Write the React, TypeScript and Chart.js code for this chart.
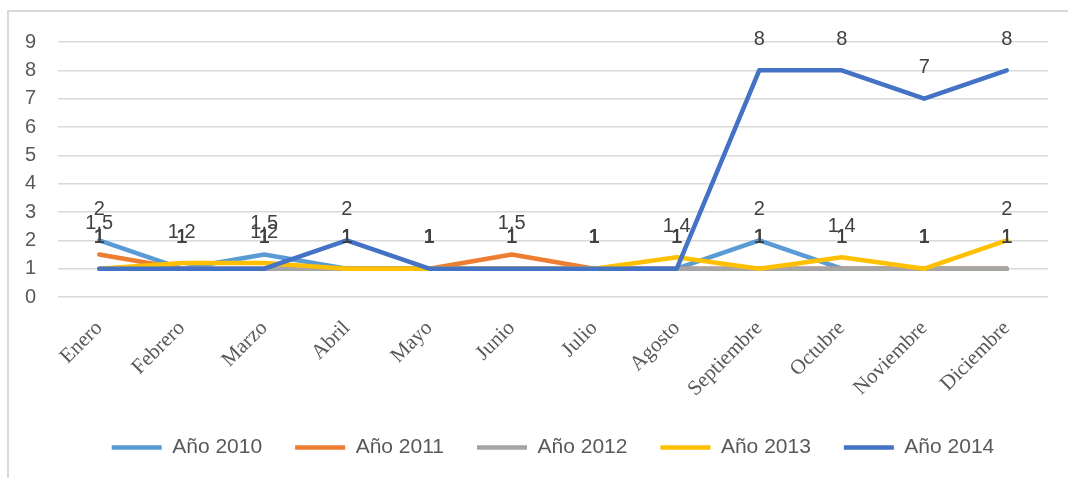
import React, { useEffect, useRef } from "react";
import { Chart, registerables } from "chart.js";

Chart.register(...registerables);

const months = ["Enero", "Febrero", "Marzo", "Abril", "Mayo", "Junio", "Julio", "Agosto", "Septiembre", "Octubre", "Noviembre", "Diciembre"];
const seriesNames = ["Año 2010", "Año 2011", "Año 2012", "Año 2013", "Año 2014"];
const seriesColors = ["#5B9BD5", "#ED7D31", "#A5A5A5", "#FFC000", "#4472C4"];
const values2010 = [2, 1, 1.5, 1, 1, 1, 1, 1, 2, 1, 1, 1];
const values2011 = [1.5, 1, 1, 1, 1, 1.5, 1, 1, 1, 1, 1, 1];
const values2012 = [1, 1, 1, 1, 1, 1, 1, 1, 1, 1, 1, 1];
const values2013 = [1, 1.2, 1.2, 1, 1, 1, 1, 1.4, 1, 1.4, 1, 2];
const values2014 = [1, 1, 1, 2, 1, 1, 1, 1, 8, 8, 7, 8];
const allValues = [values2010, values2011, values2012, values2013, values2014];
const yTicks = [0, 1, 2, 3, 4, 5, 6, 7, 8, 9];

const SANS = "'Liberation Sans', Arial, sans-serif";
const SERIF = "'Liberation Serif', 'Times New Roman', serif";

const dataLabelPlugin = {
  id: "dataLabels",
  afterDatasetsDraw(chart: any) {
    const ctx = chart.ctx;
    ctx.save();
    ctx.font = `20px ${SANS}`;
    ctx.fillStyle = "#404040";
    ctx.textAlign = "center";
    ctx.textBaseline = "middle";
    const n = chart.data.datasets.length;
    // draw in original series order (2010 .. 2014)
    for (let s = n - 1; s >= 0; s--) {
      const meta = chart.getDatasetMeta(s);
      const ds = chart.data.datasets[s];
      meta.data.forEach((pt: any, i: number) => {
        const v = ds.data[i];
        const txt = String(v).replace(".", ",");
        ctx.fillText(txt, pt.x, pt.y - 31);
      });
    }
    ctx.restore();
  },
};

export default function App() {
  const ref = useRef<HTMLCanvasElement | null>(null);

  useEffect(() => {
    if (!ref.current) return;
    // reversed so that 2014 is drawn on top; legend reversed back
    const datasets = seriesNames
      .map((name, k) => ({
        label: name,
        data: allValues[k],
        borderColor: seriesColors[k],
        backgroundColor: seriesColors[k],
        borderWidth: 4.5,
        borderCapStyle: "round" as const,
        borderJoinStyle: "round" as const,
        pointRadius: 0,
        pointHoverRadius: 0,
        pointStyle: "line" as const,
        tension: 0,
        fill: false,
      }))
      .reverse();

    const chart = new Chart(ref.current, {
      type: "line",
      data: { labels: months, datasets },
      plugins: [dataLabelPlugin],
      options: {
        animation: false,
        responsive: false,
        maintainAspectRatio: false,
        layout: { padding: { left: 10, right: 20, top: 42, bottom: 10 } },
        plugins: {
          tooltip: { enabled: false },
          legend: {
            position: "bottom",
            fullSize: false,
            reverse: true,
            labels: {
              usePointStyle: true,
              pointStyle: "line",
              pointStyleWidth: 50,
              padding: 33,
              color: "#595959",
              font: { family: SANS, size: 21 },
            },
          },
        },
        scales: {
          x: {
            offset: true,
            grid: { display: false, drawTicks: false, offset: true },
            border: { display: false },
            ticks: {
              maxRotation: 45,
              minRotation: 45,
              padding: 19,
              color: "#595959",
              font: { family: SERIF, size: 21 },
              autoSkip: false,
            },
            afterFit(scale: any) {
              scale.height = 107;
            },
          },
          y: {
            min: 0,
            max: 9,
            afterBuildTicks(scale: any) {
              scale.ticks = yTicks.map((v) => ({ value: v }));
            },
            grid: { color: "#d9d9d9", lineWidth: 1.5, drawTicks: false },
            border: { display: false },
            ticks: {
              padding: 22,
              color: "#595959",
              font: { family: SANS, size: 20 },
            },
            afterFit(scale: any) {
              scale.width = 48;
            },
          },
        },
      },
    });
    return () => chart.destroy();
  }, []);

  return (
    <div style={{ position: "absolute", left: 0, top: 0, width: 1068, height: 478, overflow: "hidden", background: "#fff" }}>
      <div
        style={{
          position: "absolute",
          left: 7,
          top: 10,
          width: 1061,
          height: 468,
          boxSizing: "border-box",
          borderLeft: "2px solid #d9d9d9",
          borderTop: "2px solid #d9d9d9",
        }}
      />
      <canvas ref={ref} width={1068} height={478} style={{ position: "absolute", left: 0, top: 0, width: 1068, height: 478 }} />
    </div>
  );
}
